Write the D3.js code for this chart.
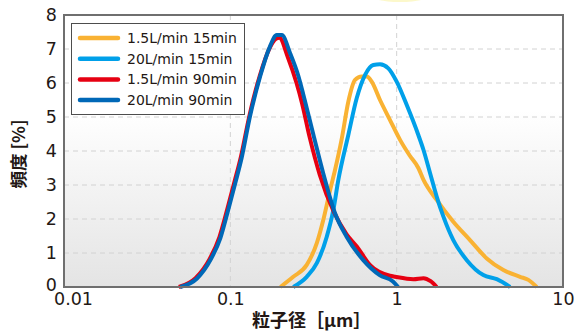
<!DOCTYPE html>
<html lang="ja">
<head>
  <meta charset="utf-8">
  <title>粒子径分布</title>
  <style>
    body { margin: 0; background: #fff; }
    .num { font-family: "DejaVu Sans", sans-serif; fill: #231815; }
    .jp { font-family: "Noto Sans CJK JP", sans-serif; font-weight: bold; fill: #231815; }
  </style>
</head>
<body>
  <div id="chart"></div>

  <script src="https://d3js.org/d3.v7.min.js"></script>
  <script>
    var seriesNames = ["1.5L/min 15min", "20L/min 15min", "1.5L/min 90min", "20L/min 90min"];
    var seriesColors = ["#f9b233", "#00a0e9", "#e60012", "#0068b7"];

    // [粒子径 µm, 頻度 %]
    var s15_15 = [[0.2,0],[0.239,0.3],[0.288,0.65],[0.331,1.29],[0.362,1.97],[0.398,2.85],[0.426,3.44],
      [0.468,4.37],[0.512,5.45],[0.562,6.09],[0.616,6.19],[0.661,6.19],[0.708,6.04],[0.794,5.5],
      [0.912,4.91],[1.05,4.32],[1.2,3.86],[1.35,3.5],[1.45,3.15],[1.74,2.56],[2.19,1.92],[2.76,1.38],
      [3.48,0.84],[4.38,0.5],[5.52,0.3],[6.19,0.21],[6.95,0]];
    var s20_15 = [[0.239,0],[0.288,0.3],[0.331,0.7],[0.38,1.48],[0.416,2.26],[0.446,3.15],[0.512,4.47],
      [0.575,5.55],[0.646,6.24],[0.724,6.53],[0.794,6.55],[0.891,6.43],[1.0,6.04],[1.15,5.35],
      [1.35,4.47],[1.45,4.03],[1.59,3.34],[1.74,2.66],[1.91,2.07],[2.19,1.38],[2.64,0.79],[3.32,0.35],
      [4.0,0.23],[4.81,0]];
    var s15_90 = [[0.049,0],[0.062,0.27],[0.075,0.82],[0.086,1.47],[0.096,2.3],[0.106,3.1],[0.116,3.85],
      [0.13,5.02],[0.15,6.2],[0.172,7.02],[0.188,7.3],[0.197,7.33],[0.222,6.75],[0.25,6.0],[0.27,5.4],
      [0.3,4.4],[0.345,3.3],[0.42,2.2],[0.5,1.55],[0.576,1.19],[0.69,0.65],[0.91,0.33],[0.98,0.3],
      [1.26,0.23],[1.45,0.26],[1.6,0.17],[1.74,0]];
    var s20_90 = [[0.05,0],[0.063,0.25],[0.076,0.8],[0.087,1.43],[0.097,2.26],[0.107,3.05],[0.117,3.8],
      [0.131,5.0],[0.151,6.19],[0.173,7.07],[0.19,7.41],[0.204,7.41],[0.229,6.87],[0.257,6.19],
      [0.275,5.65],[0.316,4.47],[0.362,3.34],[0.426,2.17],[0.5,1.48],[0.63,0.79],[0.79,0.35],
      [0.95,0.16],[1.02,0]];
    var allSeries = [s15_15, s20_15, s15_90, s20_90];

    var xTicks = [0.01, 0.1, 1, 10];
    var xTickLabels = ["0.01", "0.1", "1", "10"];
    var yTicks = [0, 1, 2, 3, 4, 5, 6, 7, 8];

    var width = 576, height = 333;
    var plotLeft = 64, plotRight = 563, plotTop = 15, plotBottom = 287;

    var svg = d3.select("#chart").append("svg")
        .attr("width", width)
        .attr("height", height);

    var x = d3.scaleLog().domain([0.01, 10]).range([plotLeft, plotRight]);
    var y = d3.scaleLinear().domain([0, 8]).range([plotBottom, plotTop]);

    var defs = svg.append("defs");
    var grad = defs.append("linearGradient")
        .attr("id", "bg").attr("x1", 0).attr("y1", 0).attr("x2", 0).attr("y2", 1);
    grad.append("stop").attr("offset", "0.35").attr("stop-color", "#ffffff");
    grad.append("stop").attr("offset", "1").attr("stop-color", "#e4e4e4");

    // faint glow at top
    svg.append("ellipse")
        .attr("cx", 400).attr("cy", -6).attr("rx", 32).attr("ry", 8)
        .attr("fill", "#faf3a8").attr("opacity", 0.6);

    svg.append("rect")
        .attr("x", plotLeft).attr("y", plotTop)
        .attr("width", plotRight - plotLeft).attr("height", plotBottom - plotTop)
        .attr("fill", "url(#bg)");

    // grid
    svg.append("g").selectAll("line")
        .data(yTicks.slice(1, -1))
      .enter().append("line")
        .attr("x1", plotLeft).attr("x2", plotRight)
        .attr("y1", function(d) { return y(d); })
        .attr("y2", function(d) { return y(d); })
        .attr("stroke", "#d2d2d2").attr("stroke-width", 1)
        .attr("stroke-dasharray", "5,4");

    svg.append("g").selectAll("line")
        .data(xTicks.slice(1, -1))
      .enter().append("line")
        .attr("x1", function(d) { return x(d); })
        .attr("x2", function(d) { return x(d); })
        .attr("y1", plotTop).attr("y2", plotBottom)
        .attr("stroke", "#d2d2d2").attr("stroke-width", 1)
        .attr("stroke-dasharray", "5,4");

    var line = d3.line()
        .x(function(d) { return x(d[0]); })
        .y(function(d) { return y(d[1]); })
        .curve(d3.curveMonotoneX);

    svg.append("g").selectAll("path")
        .data(allSeries)
      .enter().append("path")
        .attr("d", line)
        .attr("fill", "none")
        .attr("stroke", function(d, i) { return seriesColors[i]; })
        .attr("stroke-width", 4)
        .attr("stroke-linejoin", "round")
        .attr("stroke-linecap", "butt");

    svg.append("rect")
        .attr("x", plotLeft).attr("y", plotTop)
        .attr("width", plotRight - plotLeft).attr("height", plotBottom - plotTop)
        .attr("fill", "none")
        .attr("stroke", "#6f6f6f").attr("stroke-width", 2);

    // axes
    var yAxis = svg.append("g")
        .attr("transform", "translate(" + plotLeft + ",0)")
        .call(d3.axisLeft(y).tickValues(yTicks).tickSize(0).tickPadding(7).tickFormat(d3.format("d")));
    yAxis.select(".domain").remove();
    yAxis.selectAll("text").attr("class", "num").style("font-size", "17.5px").attr("fill", null)
        .attr("dy", function(d) { return d === 0 ? "0.2em" : "0.32em"; });

    var xAxis = svg.append("g")
        .attr("transform", "translate(0," + plotBottom + ")")
        .call(d3.axisBottom(x).tickValues(xTicks).tickSize(0).tickPadding(6)
          .tickFormat(function(d, i) { return xTickLabels[i]; }));
    xAxis.select(".domain").remove();
    xAxis.selectAll("text").attr("class", "num").style("font-size", "17.5px").attr("fill", null)
        .attr("dx", function(d, i) { return i === 0 ? 9 : 0; });

    svg.append("text")
        .attr("class", "jp")
        .attr("x", 252).attr("y", 327)
        .style("font-size", "18px")
        .text("粒子径［μm］");

    svg.append("text")
        .attr("class", "jp")
        .attr("transform", "translate(25,154) rotate(-90)")
        .attr("text-anchor", "middle")
        .style("font-size", "17.5px")
        .text("頻度 [%]");

    // legend
    var legend = svg.append("g");
    legend.append("rect")
        .attr("x", 71.5).attr("y", 23.5).attr("width", 173).attr("height", 91)
        .attr("fill", "#fff").attr("stroke", "#4d4d4d").attr("stroke-width", 1);

    var rows = legend.selectAll("g.row")
        .data(seriesNames)
      .enter().append("g")
        .attr("class", "row")
        .attr("transform", function(d, i) { return "translate(0," + (38 + i * 20.7) + ")"; });
    rows.append("line")
        .attr("x1", 80).attr("x2", 118)
        .attr("stroke", function(d, i) { return seriesColors[i]; })
        .attr("stroke-width", 4.5)
        .attr("stroke-linecap", "round");
    rows.append("text")
        .attr("class", "num")
        .attr("x", 127).attr("y", 5)
        .style("font-size", "14px")
        .text(function(d) { return d; });
  </script>
</body>
</html>
